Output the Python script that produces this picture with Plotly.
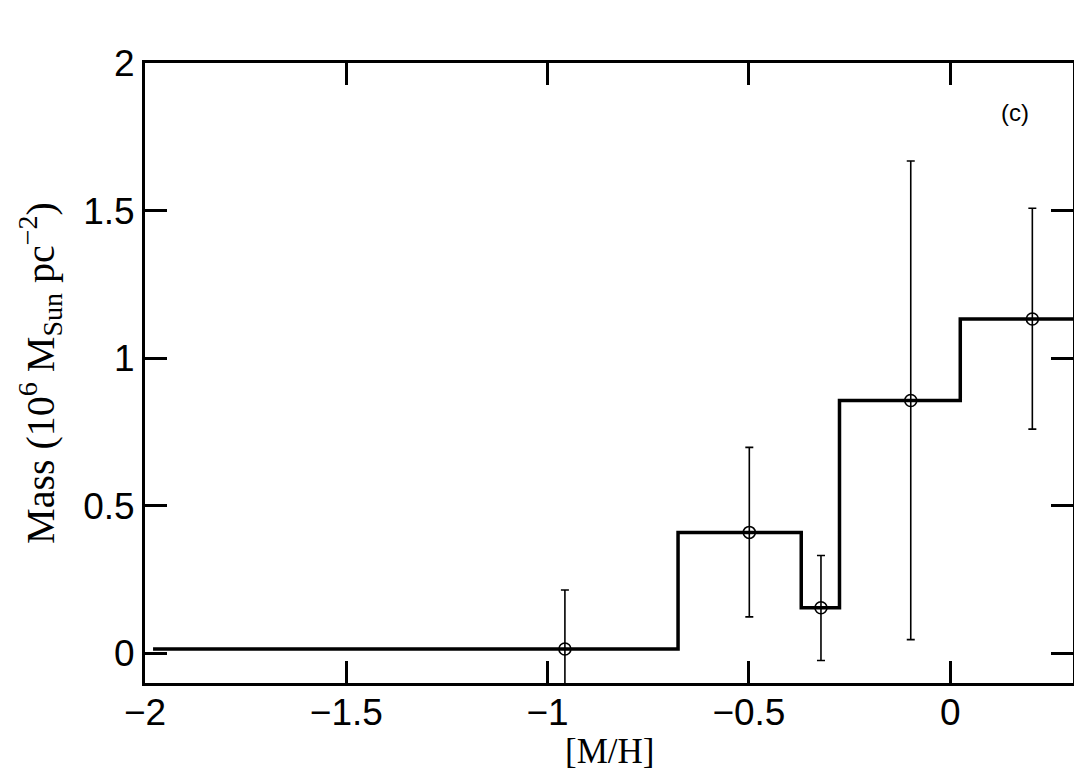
import plotly.graph_objects as go

# histogram bin edges and heights
bin_edges = [-1.98, -0.676, -0.370, -0.275, 0.025, 0.305]
bin_mass = [0.015, 0.41, 0.155, 0.857, 1.133]

# points with asymmetric error bars
pt_mh = [-0.957, -0.499, -0.321, -0.098, 0.204]
pt_mass = [0.015, 0.41, 0.155, 0.857, 1.133]
pt_upper = [0.215, 0.698, 0.332, 1.668, 1.508]
pt_lower = [-0.185, 0.124, -0.024, 0.047, 0.760]

x_ticks = [-2, -1.5, -1, -0.5, 0]
y_ticks = [0, 0.5, 1, 1.5, 2]

fig = go.Figure()

fig.add_trace(go.Scatter(
    x=bin_edges,
    y=bin_mass + [bin_mass[-1]],
    mode="lines",
    line={"color": "black", "width": 3.5, "shape": "hv"},
    showlegend=False,
))

fig.add_trace(go.Scatter(
    x=pt_mh,
    y=pt_mass,
    mode="markers",
    marker={"symbol": "circle-open", "size": 12, "color": "black",
            "line": {"width": 1.6}},
    error_y={
        "type": "data",
        "symmetric": False,
        "array": [u - m for u, m in zip(pt_upper, pt_mass)],
        "arrayminus": [m - l for m, l in zip(pt_mass, pt_lower)],
        "color": "black",
        "thickness": 1.6,
        "width": 4,
    },
    showlegend=False,
))

fig.add_annotation(
    x=0.161, y=1.834, text="(c)", showarrow=False,
    font={"family": "Liberation Sans, Arial", "size": 24, "color": "black"},
)

# x-axis title as an annotation so it can sit close to the bottom edge
fig.add_annotation(
    x=0.5, y=-0.1097, xref="paper", yref="paper",
    text="[M/H]", showarrow=False, yanchor="middle",
    font={"family": "Liberation Serif, Times New Roman", "size": 35,
          "color": "black"},
)

axis_common = dict(
    showline=True,
    linecolor="black",
    linewidth=3,
    mirror="ticks",
    ticks="inside",
    ticklen=22,
    tickwidth=3,
    tickcolor="black",
    showgrid=False,
    zeroline=False,
    automargin=False,
    tickfont={"family": "Liberation Sans, Arial", "size": 37, "color": "black"},
)

fig.update_xaxes(
    range=[-2, 0.305],
    tickvals=x_ticks,
    ticktext=[f"{v:g}".replace("-", "\u2212") for v in x_ticks],
    ticklabelstandoff=-5,
    **axis_common,
)
fig.update_yaxes(
    range=[-0.1, 2],
    tickvals=y_ticks,
    ticktext=[f"{v:g}" for v in y_ticks],
    title_text="Mass (10<sup>6</sup> M<sub>Sun</sub> pc<sup>\u22122</sup>)",
    title_standoff=17,
    title_font={"family": "Liberation Serif, Times New Roman", "size": 40,
                "color": "black"},
    **axis_common,
)

# the page body adds an 8px offset, so margins are trimmed by that much
fig.update_layout(
    width=1082,
    height=773,
    plot_bgcolor="white",
    paper_bgcolor="white",
    margin={"l": 137, "r": 17, "t": 55, "b": 98},
)

fig.write_html("out.html")
